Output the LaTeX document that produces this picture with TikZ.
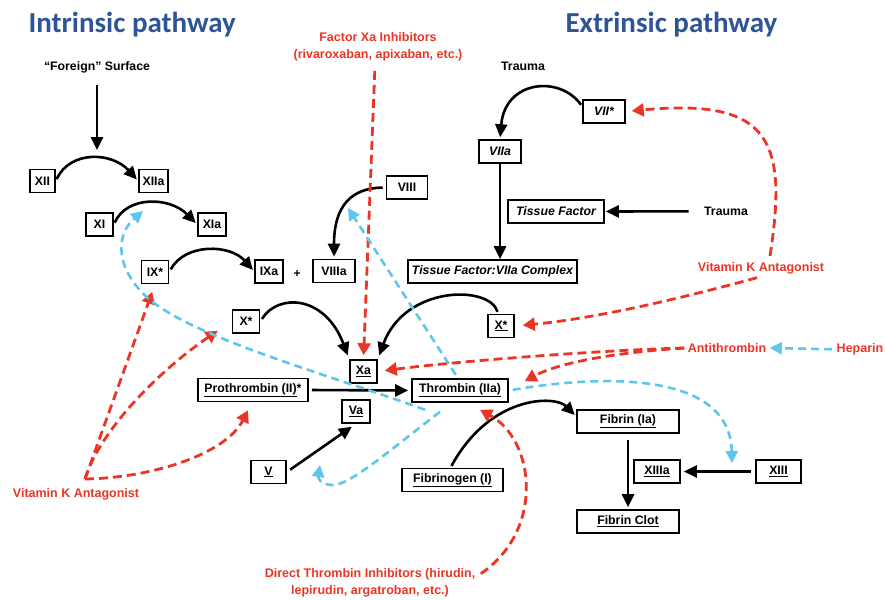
\documentclass[tikz,border=0pt]{standalone}
\usepackage{fontspec}
\setmainfont{Liberation Sans}
\newfontfamily\titlefont{Carlito}
\usetikzlibrary{arrows.meta}
\definecolor{ttlblue}{RGB}{46,84,150}
\definecolor{dred}{RGB}{236,52,36}
\definecolor{dblue}{RGB}{92,198,236}
\tikzset{
  box/.style={draw=black, line width=1.6pt, fill=white, minimum height=23pt,
    inner xsep=3pt, inner ysep=2pt, font=\fontsize{12.3}{14}\selectfont\bfseries},
  ibox/.style={box, font=\fontsize{12.3}{14}\selectfont\bfseries\itshape},
  lbl/.style={font=\fontsize{12.3}{14}\selectfont\bfseries, anchor=base},
  rlbl/.style={font=\fontsize{12.5}{17}\selectfont\bfseries, text=dred, align=center},
  ttl/.style={font=\titlefont\fontsize{29}{32}\selectfont\bfseries, text=ttlblue, anchor=base west},
  blk/.style={draw=black, line width=2.6pt, -{Triangle[length=13pt,width=12pt]}},
  rdash/.style={draw=dred, line width=2.8pt, dash pattern=on 9pt off 5pt,
    -{Triangle[length=12pt,width=13pt]}, color=dred},
  bdash/.style={draw=dblue, line width=2.6pt, dash pattern=on 8pt off 5pt,
    -{Triangle[length=12pt,width=12pt]}, color=dblue},
}
\begin{document}
\begin{tikzpicture}[x=1pt,y=-1pt]
\useasboundingbox (0,0) rectangle (885,599);

% titles
\node[ttl] (tint) at (25,33) {Intrinsic pathway};
\node[ttl] (text) at (562,33) {Extrinsic pathway};

% black labels
\node[lbl] (fs) at (97,70.5) {“Foreign” Surface};
\node[lbl] (tr1) at (523,70.5) {Trauma};
\node[lbl] (tr2) at (726,215.5) {Trauma};
\node[font=\fontsize{12}{12}\selectfont\bfseries] (plus) at (297,274) {+};

% red / anticoagulant labels
\node[rlbl] (fxa) at (378,47) {Factor Xa Inhibitors\\(rivaroxaban, apixaban, etc.)};
\node[rlbl] (dti) at (370,582.7) {Direct Thrombin Inhibitors (hirudin,\\lepirudin, argatroban, etc.)};
\node[rlbl, anchor=base] (vkr) at (761,271.5) {Vitamin K Antagonist};
\node[rlbl, anchor=base] (vkl) at (76,497.5) {Vitamin K Antagonist};
\node[rlbl, anchor=base] (at) at (727,352.5) {Antithrombin};
\node[rlbl, anchor=base] (hep) at (860,352.5) {Heparin};

% intrinsic boxes
\node[box, minimum width=25pt] (xii) at (42.5,181) {XII};
\node[box, minimum width=29pt] (xiia) at (153.5,181) {XIIa};
\node[box, minimum width=27pt] (xi) at (99.5,224.5) {XI};
\node[box, minimum width=28pt] (xia) at (212,224.5) {XIa};
\node[box, minimum width=27pt] (ix) at (155,272) {IX*};
\node[box, minimum width=28pt] (ixa) at (269,271.5) {IXa};
\node[box, minimum width=42pt] (viiia) at (334,271) {VIIIa};
\node[box, minimum width=41pt] (viii) at (407,187.5) {VIII};
\node[box, minimum width=27pt] (xl) at (246,321.5) {X*};
\node[box, minimum width=27pt] (xa) at (363.5,371.5) {\underline{Xa}};

% extrinsic boxes
\node[ibox, minimum width=42pt] (vii) at (604,111.5) {VII*};
\node[ibox, minimum width=42pt] (viia) at (500,151.5) {VIIa};
\node[ibox, minimum width=96pt] (tf) at (556,211.5) {Tissue Factor};
\node[ibox, minimum width=169pt] (tfc) at (492.5,271.5) {Tissue Factor:VIIa Complex};
\node[box, minimum width=26pt] (xr) at (501,326) {\underline{X*}};

% common pathway boxes
\node[box, minimum width=110pt] (pro) at (253,390) {\underline{Prothrombin (II)}*};
\node[box, minimum width=96pt] (thr) at (460,390.5) {\underline{Thrombin (IIa)}};
\node[box, minimum width=28pt] (va) at (356,411.5) {\underline{Va}};
\node[box, minimum width=35pt] (v) at (268.5,472) {\underline{V}};
\node[box, minimum width=101pt] (fgn) at (452.5,480) {\underline{Fibrinogen (I)}};
\node[box, minimum width=102pt] (fib) at (628,421.5) {\underline{Fibrin (Ia)}};
\node[box, minimum width=46pt] (xiiia) at (657,471.5) {\underline{XIIIa}};
\node[box, minimum width=45pt] (xiii) at (778.5,471.5) {\underline{XIII}};
\node[box, minimum width=102pt] (clot) at (628,521.5) {\underline{Fibrin Clot}};

% free ends
\coordinate (fsArrow) at (97,150);
\coordinate (xiAct) at (143,211);
\coordinate (viiiAct) at (348,208);
\coordinate (vAct) at (320,465);
\coordinate (xiiiAct) at (732,463);
\coordinate (vklHub) at (85,479);

% black activation arrows
\draw[blk, shorten <=8pt] (fs.south) -- (fsArrow);
\draw[blk, shorten <=2pt, shorten >=2pt] (xii.east) .. controls (70,150) and (112,152) .. (xiia.west);
\draw[blk, shorten <=2pt, shorten >=2pt] (xi.east) .. controls (127,195) and (170,197) .. (xia.west);
\draw[blk, shorten <=3pt, shorten >=2pt] (ix.east) .. controls (185,243) and (230,244) .. (ixa.west);
\draw[blk, shorten <=3pt, shorten >=2pt] (viii.west) .. controls (352,188) and (334,205) .. (viiia.north);
\draw[blk, shorten <=3pt, shorten >=4pt] (xl.east) .. controls (278,293) and (325,295) .. (xa.north west);
\draw[blk, shorten <=2pt, shorten >=4pt] ([xshift=-3pt]xr.north) .. controls (490,285) and (405,285) .. (xa.north east);
\draw[blk, shorten <=2pt, shorten >=2pt] ([yshift=5pt]vii.west) .. controls (560,75) and (505,80) .. (viia.north);
\draw[blk] (viia.south) -- (viia.south |- tfc.north);
\draw[blk, shorten <=12pt, shorten >=1pt] (tr2.west) -- (tf.east);
\draw[blk, shorten <=3pt, shorten >=3pt] (pro.east) -- (thr.west);
\draw[blk, shorten <=4pt, shorten >=5pt] (v.east) -- (va.south);
\draw[blk, shorten <=2pt, shorten >=2pt] ([xshift=-2pt]fgn.north) .. controls (490,395) and (555,395) .. ([yshift=5pt]fib.west);
\draw[blk, shorten <=6pt, shorten >=2pt] (fib.south) -- (clot.north);
\draw[blk, shorten <=4pt, shorten >=3pt] (xiii.west) -- (xiiia.east);

% red inhibitor connectors
\draw[rdash, shorten <=6pt, shorten >=4pt] ([xshift=-3pt]fxa.south) -- (xa.north);
\draw[rdash, shorten >=6pt] ([xshift=9pt,yshift=3pt]vkr.north) .. controls (788,140) and (770,98) .. (vii.east);
\draw[rdash, shorten >=8pt] ([xshift=-4pt]vkr.south) .. controls (690,296) and (600,318) .. (xr.east);
\draw[rdash, shorten >=7pt] (at.west) .. controls (600,350) and (450,362) .. (xa.east);
\draw[rdash] (at.west) .. controls (620,352) and (560,362) .. ([xshift=16pt,yshift=-3pt]thr.north east);
\draw[rdash] ([shift={(2pt,9pt)}]dti.east) .. controls (545,530) and (535,440) .. ([xshift=20pt,yshift=-7pt]thr.south);
\draw[rdash, shorten >=8pt] (vklHub) -- (ix.south);
\draw[rdash] (vklHub) .. controls (100,430) and (160,370) .. ([xshift=-14pt,yshift=3pt]xl.south west);
\draw[rdash] (vklHub) .. controls (150,478) and (225,455) .. ([xshift=-5pt,yshift=-8pt]pro.south);

% blue (heparin / thrombin feedback) connectors
\draw[bdash, shorten <=1pt] (hep.west) -- (at.east);
\draw[bdash] ([xshift=-35pt,yshift=-7pt]thr.south) .. controls (330,375) and (200,340) .. (150,300)
   .. controls (115,270) and (115,235) .. (xiAct);
\draw[bdash, shorten <=4pt] ([xshift=-2pt]thr.north) -- (viiiAct);
\draw[bdash] ([xshift=-20pt,yshift=-9pt]thr.south) .. controls (390,450) and (350,485) .. (333,485)
   .. controls (320,485) and (318,478) .. (vAct);
\draw[bdash, shorten <=4pt] (thr.east) .. controls (600,375) and (730,370) .. (xiiiAct);
\end{tikzpicture}
\end{document}
